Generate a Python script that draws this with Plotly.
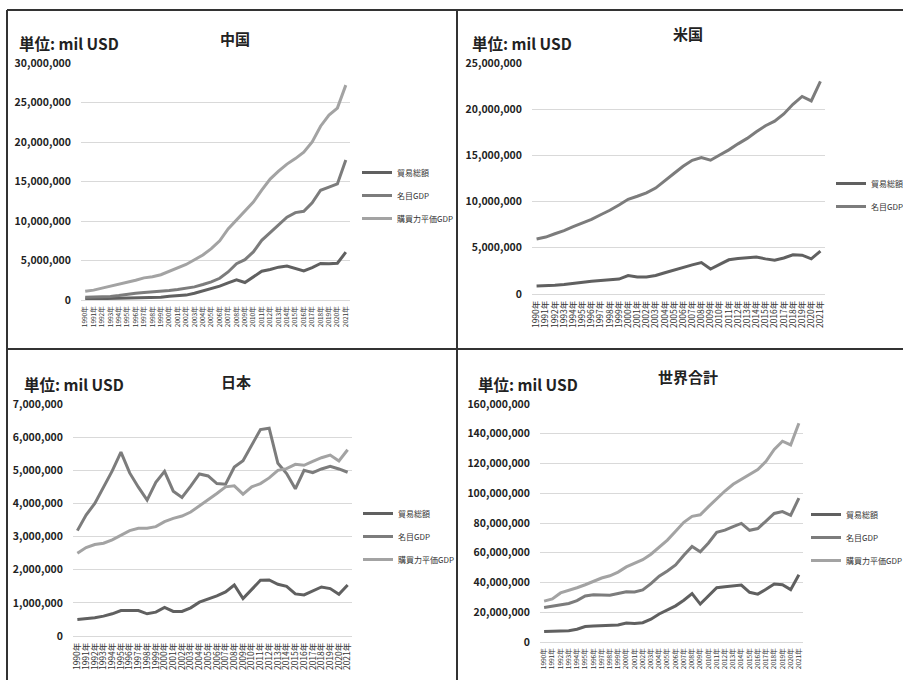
import plotly.graph_objects as go

W, H = 903, 680

years = [f"{y}年" for y in range(1990, 2022)]

# 中国 (mil USD)
cn_trade = [0.12, 0.14, 0.17, 0.20, 0.24, 0.28, 0.29, 0.33, 0.32, 0.36, 0.47, 0.51, 0.62, 0.85, 1.15, 1.42,
            1.76, 2.18, 2.56, 2.21, 2.97, 3.64, 3.87, 4.16, 4.30, 3.95, 3.69, 4.11, 4.62, 4.58, 4.65, 6.05]
cn_gdp = [0.36, 0.38, 0.43, 0.44, 0.56, 0.73, 0.86, 0.96, 1.03, 1.09, 1.21, 1.34, 1.47, 1.66, 1.96, 2.29,
          2.75, 3.55, 4.59, 5.10, 6.09, 7.55, 8.53, 9.57, 10.48, 11.06, 11.23, 12.31, 13.89, 14.28, 14.69, 17.73]
cn_ppp = [1.10, 1.25, 1.50, 1.75, 1.95, 2.20, 2.50, 2.80, 2.95, 3.20, 3.60, 4.00, 4.50, 5.10, 5.70, 6.50,
          7.50, 9.00, 10.10, 11.20, 12.40, 13.90, 15.30, 16.30, 17.20, 17.90, 18.70, 20.00, 22.00, 23.40, 24.30, 27.20]

# 米国
us_trade = [0.87, 0.88, 0.95, 1.02, 1.14, 1.30, 1.38, 1.45, 1.51, 1.62, 2.00, 1.85, 1.85, 2.00, 2.30, 2.60,
            2.90, 3.15, 3.40, 2.70, 3.20, 3.70, 3.85, 3.90, 4.00, 3.80, 3.65, 3.90, 4.25, 4.20, 3.80, 4.65]
us_gdp = [5.96, 6.16, 6.52, 6.86, 7.29, 7.64, 8.07, 8.58, 9.06, 9.63, 10.25, 10.58, 10.94, 11.46, 12.21, 13.04,
          13.82, 14.47, 14.77, 14.48, 15.05, 15.60, 16.25, 16.84, 17.55, 18.21, 18.70, 19.48, 20.53, 21.38, 20.90, 23.00]

# 日本
jp_trade = [0.50, 0.52, 0.55, 0.60, 0.67, 0.77, 0.77, 0.77, 0.67, 0.72, 0.86, 0.74, 0.74, 0.85, 1.02, 1.11,
            1.21, 1.33, 1.54, 1.13, 1.42, 1.68, 1.69, 1.56, 1.50, 1.27, 1.24, 1.36, 1.48, 1.43, 1.26, 1.54]
jp_gdp = [3.18, 3.65, 4.00, 4.50, 4.98, 5.55, 4.92, 4.49, 4.10, 4.64, 4.97, 4.37, 4.18, 4.52, 4.89, 4.83,
          4.60, 4.58, 5.10, 5.29, 5.76, 6.23, 6.27, 5.21, 4.90, 4.44, 5.00, 4.93, 5.04, 5.12, 5.04, 4.94]
jp_ppp = [2.50, 2.67, 2.76, 2.80, 2.90, 3.03, 3.18, 3.25, 3.25, 3.30, 3.45, 3.55, 3.62, 3.74, 3.92, 4.12,
          4.30, 4.50, 4.53, 4.28, 4.50, 4.60, 4.77, 5.00, 5.05, 5.18, 5.15, 5.27, 5.38, 5.46, 5.28, 5.62]

# 世界合計
wd_trade = [7.0, 7.1, 7.6, 7.6, 8.6, 10.4, 10.7, 11.1, 11.0, 11.5, 12.8, 12.5, 13.0, 15.3, 18.8, 21.3,
            24.3, 28.1, 32.5, 25.5, 30.8, 36.5, 37.2, 37.8, 38.3, 33.4, 32.2, 35.4, 39.0, 38.5, 35.2, 45.2]
wd_gdp = [23.2, 24.2, 25.4, 25.9, 27.8, 31.0, 31.7, 31.6, 31.4, 32.6, 33.8, 33.6, 35.0, 39.2, 44.2, 47.8,
          51.8, 58.3, 64.2, 60.7, 66.6, 73.7, 75.2, 77.6, 79.7, 75.1, 76.3, 81.3, 86.4, 87.7, 85.2, 96.7]
wd_ppp = [27.5, 29.0, 33.0, 34.5, 36.5, 38.5, 40.6, 43.0, 44.5, 47.0, 50.5, 53.0, 55.3, 59.0, 63.5, 68.5,
          74.5, 80.5, 84.5, 85.5, 91.0, 96.5, 101.5, 106.0, 109.5, 112.5, 116.0, 121.5, 129.5, 135.0, 132.5, 147.0]

series_names = ["貿易総額", "名目GDP", "購買力平価GDP"]
series_colors = ["#606060", "#7c7c7c", "#a3a3a3"]

FONT = "Noto Sans CJK JP"

# per panel: title, series (trillion USD), y max, dtick,
# plot box (left, right, top, bottom) px, x tick font size, legend / unit / title positions px
panels = [
    dict(title="中国", data=[cn_trade, cn_gdp, cn_ppp], ymax=30e6, dtick=5e6,
         box=(81, 350, 63, 300), xfs=6.5, leg=(357, 158), unit=(17, 43), tpos=(235, 38)),
    dict(title="米国", data=[us_trade, us_gdp], ymax=25e6, dtick=5e6,
         box=(532, 825, 63, 294), xfs=8.5, leg=(831, 169), unit=(470, 43), tpos=(688, 33)),
    dict(title="日本", data=[jp_trade, jp_gdp, jp_ppp], ymax=7e6, dtick=1e6,
         box=(73, 352, 404, 636), xfs=8.5, leg=(358, 499), unit=(22, 384), tpos=(236, 381)),
    dict(title="世界合計", data=[wd_trade, wd_gdp, wd_ppp], ymax=160e6, dtick=20e6,
         box=(540, 803, 404, 642), xfs=6.5, leg=(806, 500), unit=(476, 384), tpos=(688, 376)),
]

fig = go.Figure()
layout = dict(
    width=W, height=H, margin=dict(l=0, r=0, t=0, b=0, autoexpand=False),
    paper_bgcolor="white", plot_bgcolor="white",
    font=dict(family=FONT, color="#1a1a1a"),
    shapes=[], annotations=[],
)

for i, p in enumerate(panels):
    n = "" if i == 0 else str(i + 1)
    xa, ya = "x" + n, "y" + n
    leg = "legend" + n
    l, r, t, b = p["box"]
    for k, vals in enumerate(p["data"]):
        fig.add_trace(go.Scatter(
            x=years, y=[v * 1e6 for v in vals], mode="lines",
            name=series_names[k], line=dict(color=series_colors[k], width=3),
            xaxis=xa, yaxis=ya, legend=leg, legendgroup=f"{i}-{k}",
            hoverinfo="skip",
        ))
    layout["xaxis" + n] = dict(
        domain=[l / W, r / W], anchor=ya, type="category",
        range=[-0.5, 31.5], tickmode="linear", dtick=1, tick0=0,
        showgrid=False, zeroline=False, automargin=False,
        showline=False, ticks="", tickangle=-90, ticklabelstandoff=4,
        tickfont=dict(size=p["xfs"], color="#333333"),
        fixedrange=True,
    )
    layout["yaxis" + n] = dict(
        domain=[1 - b / H, 1 - t / H], anchor=xa,
        range=[0, p["ymax"]], dtick=p["dtick"], tickformat=",d",
        showgrid=True, gridcolor="#d9d9d9", gridwidth=1,
        zeroline=True, zerolinecolor="#d9d9d9", zerolinewidth=1,
        showline=False, ticks="", ticklabelstandoff=9, automargin=False,
        tickfont=dict(size=10.5, color="#222222", weight="bold"),
        fixedrange=True,
    )
    lx, ly = p["leg"]
    layout[leg] = dict(
        x=lx / W, y=1 - ly / H, xanchor="left", yanchor="top",
        font=dict(size=8, color="#333333"), bgcolor="rgba(0,0,0,0)",
        traceorder="grouped", tracegroupgap=4, itemclick=False,
    )
    tx, ty = p["tpos"]
    layout["annotations"].append(dict(
        text="<b>" + p["title"] + "</b>", x=tx / W, y=1 - ty / H,
        xref="paper", yref="paper", showarrow=False,
        xanchor="center", yanchor="middle",
        font=dict(size=15, color="#222222", family=FONT),
    ))
    ux, uy = p["unit"]
    layout["annotations"].append(dict(
        text="<b>単位: mil USD</b>", x=ux / W, y=1 - uy / H,
        xref="paper", yref="paper", showarrow=False,
        xanchor="left", yanchor="middle",
        font=dict(size=15.5, color="#222222", family=FONT),
    ))

# frame lines dividing the four panels
frame = [
    (7, 10, 903, 10), (7, 10, 7, 680), (457, 10, 457, 680), (7, 349, 903, 349),
]
for x0, y0, x1, y1 in frame:
    layout["shapes"].append(dict(
        type="line", xref="paper", yref="paper",
        x0=x0 / W, y0=1 - y0 / H, x1=x1 / W, y1=1 - y1 / H,
        line=dict(color="#333333", width=2),
    ))

fig.update_layout(**layout)
fig.write_html("out.html")
